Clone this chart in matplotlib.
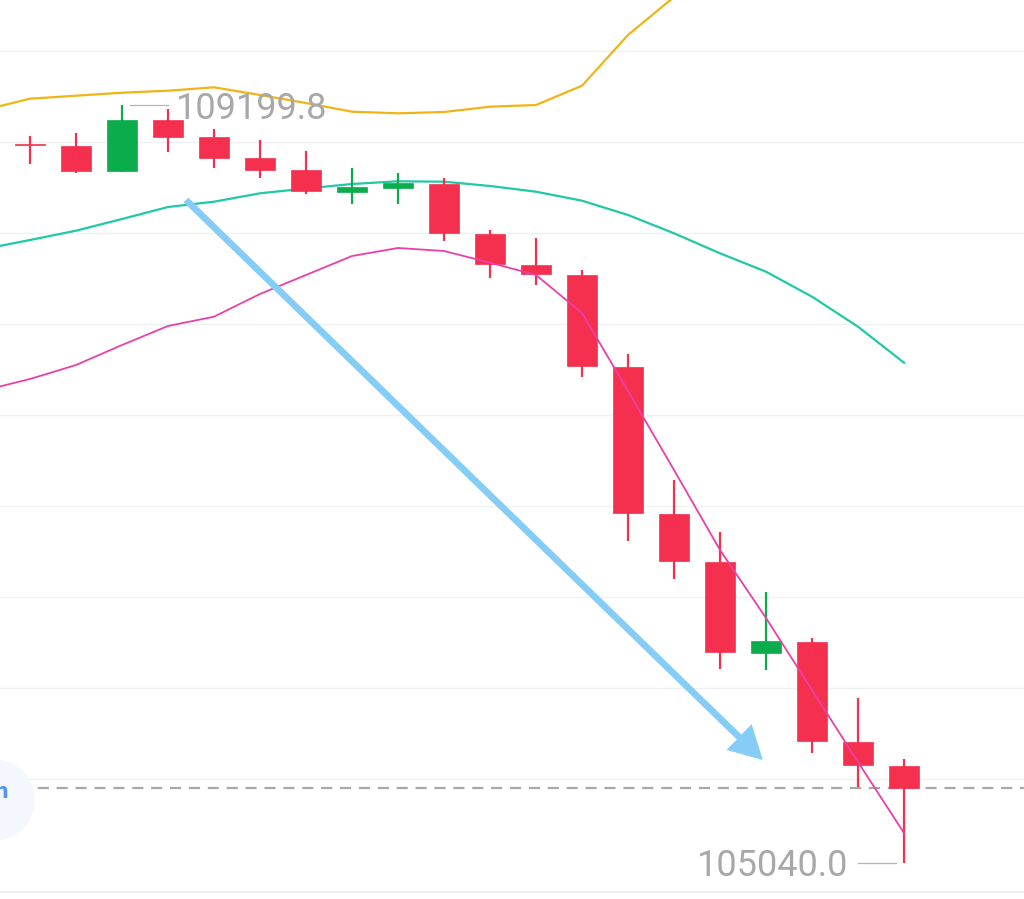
import numpy as np
import matplotlib.pyplot as plt
from matplotlib.patches import Ellipse

# candle data
opens = [108988.2, 108977.3, 108839.9, 109118.5, 109026.7, 108909.7, 108845.4, 108724.5, 108744.8, 108766.8,
         108493.7, 108323.3, 108266.7, 107764.5, 106955.1, 106693.0, 106192.9, 106253.4, 105703.9, 105572.0]
highs = [109032.2, 109048.7, 109199.8, 109178.9, 109072.3, 109010.2, 108949.8, 108858.0, 108827.2, 108799.8,
         108515.7, 108470.1, 108295.9, 107834.3, 107141.9, 106857.8, 106529.2, 106275.4, 105945.7, 105608.8]
lows = [108878.3, 108830.5, 108836.0, 108945.9, 108854.7, 108799.8, 108711.8, 108656.9, 108656.9, 108456.9,
        108250.3, 108213.4, 107706.3, 106806.7, 106597.9, 106101.7, 106097.9, 105640.1, 105453.3, 105040.0]
closes = [108982.7, 108841.5, 109120.1, 109028.4, 108911.3, 108845.4, 108730.0, 108750.3, 108772.3, 108497.5,
          108327.2, 108272.2, 107768.3, 106958.9, 106696.8, 106195.1, 106254.5, 105707.7, 105575.8, 105451.1]

# bollinger bands, starting one bar before the first visible candle
boll_up = [109175.1, 109237.2, 109253.7, 109270.1, 109281.1, 109299.8, 109257.5, 109213.5, 109165.7, 109156.9,
           109164.1, 109193.2, 109202.5, 109308.6, 109587.2, 109796.0, 110015.8, 110191.6, 110312.5, 110378.5, 110373.0]
boll_mid = [108411.3, 108460.7, 108511.8, 108576.1, 108642.1, 108671.2, 108717.3, 108743.7, 108768.4, 108783.3,
            108781.1, 108757.5, 108726.1, 108676.7, 108598.1, 108497.5, 108387.6, 108286.5, 108149.2, 107984.3, 107786.5]
boll_dn = [107634.3, 107696.9, 107773.8, 107883.7, 107988.2, 108039.3, 108164.0, 108268.4, 108372.8, 108416.8,
           108400.3, 108336.0, 108268.4, 108059.6, 107631.0, 107196.9, 106757.3, 106383.6, 105988.0, 105592.3, 105202.2]

grid_levels = np.arange(105500, 110001, 500)

RED = "#f5304e"
GREEN = "#0aac4b"

fig = plt.figure(figsize=(10.24, 8.99), dpi=100)
ax = fig.add_axes([0, 7 / 899, 1, 892 / 899])

x = np.arange(len(opens))
xb = np.arange(-1, len(boll_up) - 1)
o = np.array(opens)
c = np.array(closes)
colors = [GREEN if cc > oo else RED for oo, cc in zip(o, c)]

# grid
for g in grid_levels:
    ax.axhline(g, color="#eef1f4", lw=1, zorder=0)

# bands
ax.plot(xb, boll_up, color="#f0b416", lw=1.6, zorder=2)
ax.plot(xb, boll_mid, color="#1fc9a6", lw=1.6, zorder=2)
ax.plot(xb, boll_dn, color="#ec3fa6", lw=1.3, zorder=4)

# candles
ax.vlines(x, lows, highs, colors=colors, lw=1.6, zorder=3)
body = np.maximum(np.abs(c - o), 6)
ax.bar(x, body, bottom=np.minimum(o, c), width=0.67, color=colors, edgecolor=colors, lw=0.5, zorder=3)

# last price line
ax.axhline(closes[-1], color="#a8a8a8", lw=1.6, dashes=(5, 3.5), zorder=1)

# max / min labels
hi_i = int(np.argmax(highs))
lo_i = int(np.argmin(lows))
ax.plot([hi_i + 0.17, hi_i + 1.0], [highs[hi_i]] * 2, color="#b5b5b5", lw=0.9, zorder=3)
ax.annotate(f"{highs[hi_i]:.1f}", (hi_i + 1.17, highs[hi_i]), xytext=(0, -2.5), textcoords="offset points",
            va="center", ha="left", fontsize=26, family="Roboto", color="#a8a8a8", zorder=5)
ax.plot([lo_i - 1.0, lo_i - 0.17], [lows[lo_i]] * 2, color="#b5b5b5", lw=0.9, zorder=3)
ax.annotate(f"{lows[lo_i]:.1f}", (lo_i - 1.22, lows[lo_i]), xytext=(0, -2.5), textcoords="offset points",
            va="center", ha="right", fontsize=26, family="Roboto", color="#a8a8a8", zorder=5)

# trend arrow
ax.annotate("", xy=(15.93, 105603.3), xytext=(3.39, 108680.5),
            arrowprops=dict(arrowstyle="simple,head_length=0.66,head_width=0.72,tail_width=0.135",
                            color="#85cdf6", lw=0, shrinkA=0, shrinkB=0, mutation_scale=36),
            zorder=6)

# faint button on the left edge
ax.add_patch(Ellipse((-6 / 1024, 92 / 892), 80 / 1024, 80 / 892, transform=ax.transAxes,
                     color="#f4f7fd", zorder=6, clip_on=True))
ax.text(-0.48, 105430, "n", ha="right", va="center", fontsize=15, color="#5a93ee",
        fontweight="bold", zorder=7, clip_on=True)

ax.set_xlim(-30 / 46, 994 / 46)
ax.set_ylim(104878.0, 109779.5)
ax.set_xticks([])
ax.set_yticks([])
for s in ["top", "left", "right"]:
    ax.spines[s].set_visible(False)
ax.spines["bottom"].set_color("#eeeeee")
ax.spines["bottom"].set_linewidth(1.5)

fig.savefig("out.png", dpi=100, facecolor="white")
